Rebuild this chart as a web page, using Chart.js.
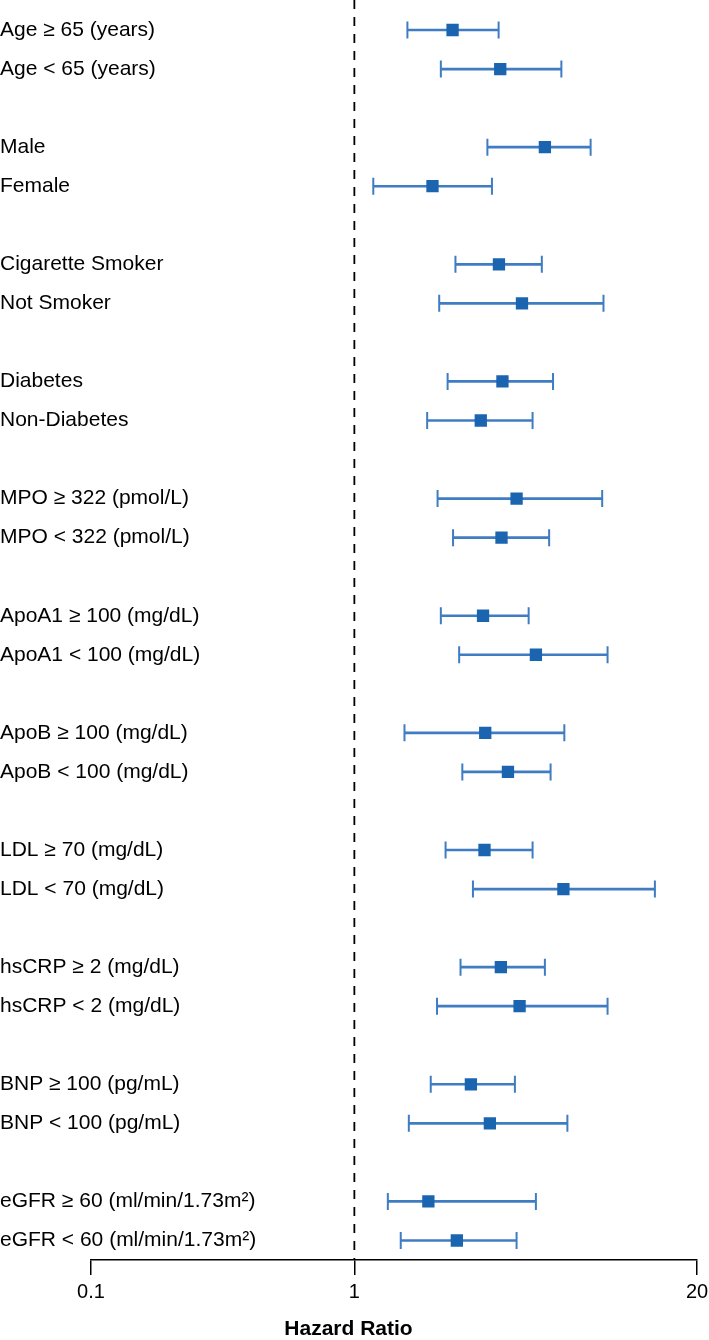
<!DOCTYPE html>
<html>
<head>
<meta charset="utf-8">
<script src="https://cdn.jsdelivr.net/npm/chart.js@4.4.0/dist/chart.umd.min.js"></script>
<style>
  html, body { margin: 0; padding: 0; background: #fff; }
  #wrap { width: 709px; height: 1340px; }
</style>
</head>
<body>
<div id="wrap"><canvas id="forestChart"></canvas></div>
<script>
// subgroups, top to bottom
const groups = [
  'Age ≥ 65 (years)', 'Age < 65 (years)',
  'Male', 'Female',
  'Cigarette Smoker', 'Not Smoker',
  'Diabetes', 'Non-Diabetes',
  'MPO ≥ 322 (pmol/L)', 'MPO < 322 (pmol/L)',
  'ApoA1 ≥ 100 (mg/dL)', 'ApoA1 < 100 (mg/dL)',
  'ApoB ≥ 100 (mg/dL)', 'ApoB < 100 (mg/dL)',
  'LDL ≥ 70 (mg/dL)', 'LDL < 70 (mg/dL)',
  'hsCRP ≥ 2 (mg/dL)', 'hsCRP < 2 (mg/dL)',
  'BNP ≥ 100 (pg/mL)', 'BNP < 100 (pg/mL)',
  'eGFR ≥ 60 (ml/min/1.73m²)', 'eGFR < 60 (ml/min/1.73m²)'
];
const hazard = [2.36, 3.58, 5.29, 1.98, 3.54, 4.33, 3.65, 3.02, 4.13, 3.62, 3.08,
                4.89, 3.14, 3.83, 3.12, 6.22, 3.60, 4.24, 2.77, 3.27, 1.91, 2.45];
const ciLow  = [1.59, 2.13, 3.20, 1.18, 2.42, 2.10, 2.26, 1.89, 2.07, 2.37, 2.13,
                2.50, 1.55, 2.57, 2.22, 2.82, 2.53, 2.06, 1.95, 1.61, 1.34, 1.50];
const ciHigh = [3.53, 6.11, 7.89, 3.33, 5.15, 8.83, 5.68, 4.75, 8.73, 5.49, 4.59,
                9.15, 6.27, 5.56, 4.75, 13.84, 5.29, 9.15, 4.07, 6.44, 4.89, 4.13];
const xTicks = [0.1, 1, 20];

// pairs are separated by an empty row
const rowLabels = [];
groups.forEach((g, i) => {
  rowLabels.push(g);
  if (i % 2 === 1 && i < groups.length - 1) rowLabels.push('');
});

const markColor = '#1a64b0';
const ciColor = '#3f7cc2';
const leftWidth = 91;

const refLine = {
  id: 'refLine',
  beforeDatasetsDraw(chart) {
    const {ctx, chartArea} = chart;
    const px = chart.scales.x.getPixelForValue(1);
    ctx.save();
    ctx.strokeStyle = '#000';
    ctx.lineWidth = 1.8;
    ctx.setLineDash([9, 8]);
    ctx.beginPath();
    ctx.moveTo(px, 0);
    ctx.lineTo(px, chartArea.bottom);
    ctx.stroke();
    ctx.restore();
  }
};

Chart.defaults.font.family = '"Liberation Sans", Arial, sans-serif';
Chart.defaults.color = '#000';

new Chart(document.getElementById('forestChart'), {
  type: 'scatter',
  data: {
    datasets: [{
      type: 'scatter',
      order: 0,
      data: groups.map((g, i) => ({x: hazard[i], y: g})),
      pointStyle: 'rect',
      radius: 8.7,
      backgroundColor: markColor,
      borderColor: markColor,
      borderWidth: 0
    }, {
      type: 'scatter',
      order: 1,
      data: groups.flatMap((g, i) => [{x: ciLow[i], y: g}, {x: ciHigh[i], y: g}]),
      pointStyle: 'line',
      rotation: 90,
      radius: 8.5,
      borderColor: ciColor,
      borderWidth: 2
    }, {
      type: 'bar',
      order: 2,
      indexAxis: 'y',
      data: groups.map((g, i) => ({y: g, x: [ciLow[i], ciHigh[i]]})),
      backgroundColor: ciColor,
      borderWidth: 0,
      barThickness: 2
    }]
  },
  options: {
    responsive: true,
    maintainAspectRatio: false,
    animation: false,
    layout: { padding: { top: 7, right: 12, left: 0, bottom: 0 } },
    plugins: {
      legend: { display: false },
      tooltip: { enabled: false },
      title: {
        display: true,
        position: 'bottom',
        text: 'Hazard Ratio',
        color: '#000',
        font: { size: 21, weight: 'bold', lineHeight: 1 },
        padding: { top: 15, bottom: 0 }
      }
    },
    scales: {
      x: {
        type: 'logarithmic',
        position: 'bottom',
        min: 0.1,
        max: 20,
        afterBuildTicks: (s) => { s.ticks = xTicks.map(v => ({value: v})); },
        afterFit: (s) => { s.height = 44; s.paddingLeft = 0; s.paddingRight = 0; },
        ticks: {
          autoSkip: false,
          maxRotation: 0,
          padding: 5,
          color: '#000',
          font: { size: 20 },
          callback: (v) => String(v)
        },
        grid: {
          drawOnChartArea: false,
          drawTicks: true,
          tickLength: 15,
          color: '#000',
          lineWidth: 1.5
        },
        border: { display: true, color: '#000', width: 1.5 }
      },
      y: {
        type: 'category',
        labels: rowLabels,
        offset: true,
        afterFit: (s) => { s.width = leftWidth; s.paddingTop = 0; s.paddingBottom = 0; },
        ticks: {
          autoSkip: false,
          mirror: true,          // mirrored labels are not clipped to the axis box
          crossAlign: 'near',
          padding: -leftWidth,   // pull them back to the left edge of the page
          color: '#000',
          font: { size: 21 }
        },
        grid: { display: false },
        border: { display: false }
      }
    }
  },
  plugins: [refLine]
});
</script>
</body>
</html>
